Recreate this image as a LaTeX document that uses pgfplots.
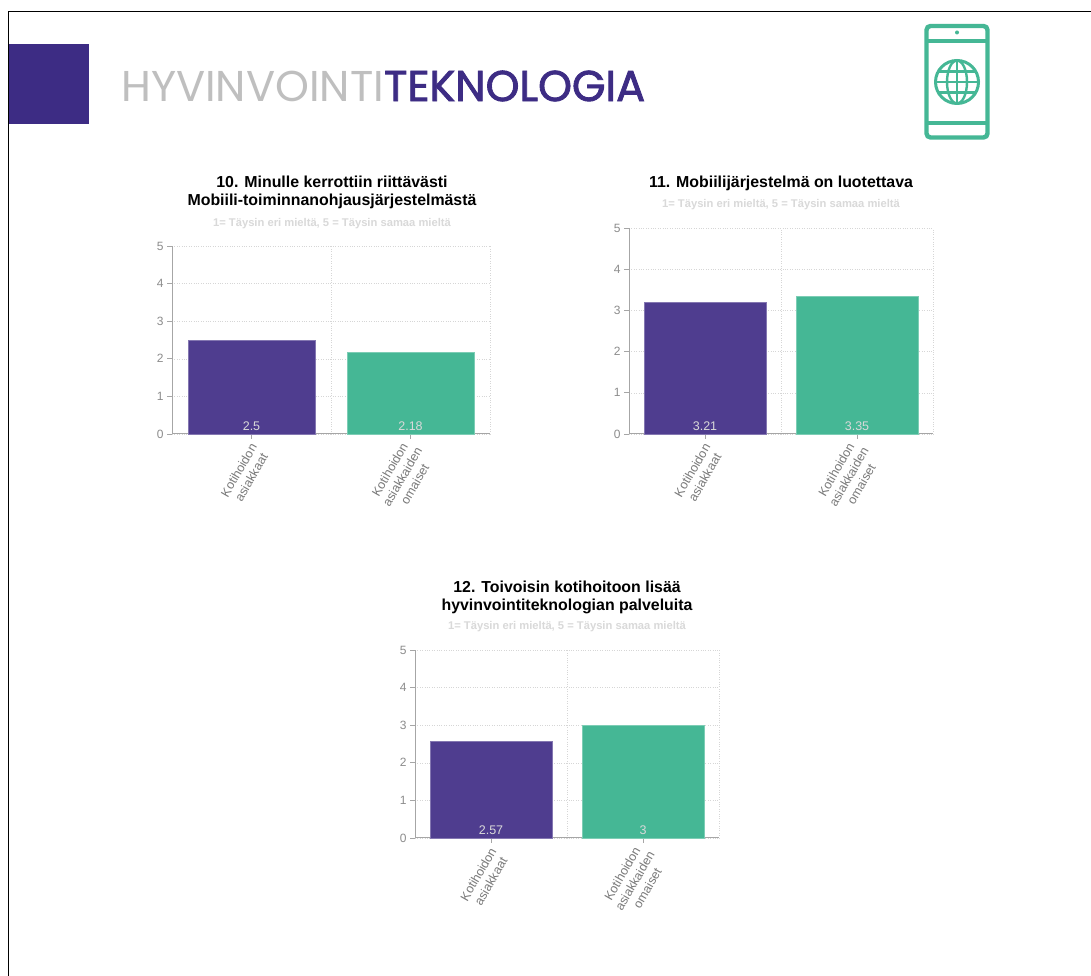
\documentclass[border=0pt]{standalone}
\usepackage{pgfplots}
\pgfplotsset{compat=1.18}
\usepackage{fontspec}
\setmainfont{Liberation Sans}
\newfontfamily\headfont{Poppins}
\definecolor{purp}{HTML}{4F3D8F}
\definecolor{deep}{HTML}{3D2C84}
\definecolor{grn}{HTML}{45B795}
\definecolor{tk}{HTML}{8C8C8C}
\definecolor{lbl}{HTML}{7A7A7A}
\pgfplotsset{
  qq/.style={
    scale only axis, ymin=0, ymax=5, xmin=0, xmax=2,
    axis lines=left, axis line style={-, draw=black!35, line width=1pt},
    ytick={0,1,2,3,4,5}, xtick={0.5,1.5}, minor xtick={0,1,2},
    xticklabels={{Kotihoidon\\asiakkaat},{Kotihoidon\\asiakkaiden\\omaiset}},
    tick align=outside, tick style={draw=black!35, line width=0.6pt},
    major tick length=5pt, minor tick length=0pt,
    ymajorgrids, xminorgrids,
    grid style={dotted, draw=black!16, line width=0.5pt},
    tick label style={font=\fontsize{12}{13}\selectfont, text=tk},
    /pgf/number format/assume math mode=true,
    xticklabel style={rotate=60, anchor=east, align=center, text=lbl,
      font=\fontsize{12.5}{14.5}\selectfont, inner sep=1pt, xshift=-2.8pt, yshift=-11.8pt},
    anchor=south west, clip=false, axis on top=false,
  },
  qbar/.style={ybar, bar width=0.8, bar shift=0pt, fill=#1, draw=#1!70!white, line width=0.4pt},
  qval/.style={draw=none, mark=none, nodes near coords, point meta=explicit symbolic,
    nodes near coords style={anchor=south, inner sep=3pt, text=white!85!black,
      font=\fontsize{12.5}{13}\selectfont}},
}
\begin{document}
\begin{tikzpicture}[x=1pt,y=1pt]
\useasboundingbox (0,0) rectangle (1091,976);
\fill[white] (0,0) rectangle (1091,976);
\draw[black, line width=1pt] (8.5,0) -- (8.5,964.5) -- (1091,964.5);
\fill[deep] (9,852) rectangle (89,932);
% heading
\node[anchor=west, inner sep=0pt, font=\headfont\fontsize{43.1}{44}\selectfont] at (121,890)
  {\textcolor{black!25}{HYVINVOINTI}\textcolor{deep}{\addfontfeature{FakeBold=2}TEKNOLOGIA}};
% phone icon
\draw[grn, line width=4.4pt, rounded corners=4pt] (926.5,838.5) rectangle (987.5,950);
\draw[grn, line width=3.6pt] (926.5,935) -- (987.5,935);
\draw[grn, line width=3.6pt] (926.5,853) -- (987.5,853);
\fill[grn] (957,943.5) circle (2);
\begin{scope}[shift={(957,894)}]
\draw[grn, line width=3pt] (0,0) circle (21.5);
\draw[grn, line width=2.4pt] (0,0) ellipse (10 and 21.5);
\draw[grn, line width=2.4pt] (0,-21.5) -- (0,21.5);
\draw[grn, line width=2.4pt] (-21.5,0) -- (21.5,0);
\draw[grn, line width=2.4pt] (-18.5,10.5) -- (18.5,10.5);
\draw[grn, line width=2.4pt] (-18.5,-10.5) -- (18.5,-10.5);
\end{scope}
% chart 10
\begin{axis}[qq, at={(172pt,542pt)}, width=318pt, height=188pt]
\addplot[qbar=purp] coordinates {(0.5,2.5)};
\addplot[qbar=grn] coordinates {(1.5,2.18)};
\addplot[qval] coordinates {(0.5,0)[2.5] (1.5,0)[2.18]};
\end{axis}
\node[align=center, font=\bfseries\fontsize{15.9}{18}\selectfont] at (332,783.5)
  {10. Minulle kerrottiin riittävästi\\Mobiili-toiminnanohjausjärjestelmästä};
\node[text=black!15, font=\bfseries\fontsize{11.2}{12}\selectfont] at (332,752.5)
  {1= Täysin eri mieltä, 5 = Täysin samaa mieltä};
% chart 11
\begin{axis}[qq, at={(629pt,542pt)}, width=304pt, height=206pt]
\addplot[qbar=purp] coordinates {(0.5,3.21)};
\addplot[qbar=grn] coordinates {(1.5,3.35)};
\addplot[qval] coordinates {(0.5,0)[3.21] (1.5,0)[3.35]};
\end{axis}
\node[font=\bfseries\fontsize{15.9}{18}\selectfont] at (781,792.5)
  {11. Mobiilijärjestelmä on luotettava};
\node[text=black!15, font=\bfseries\fontsize{11.2}{12}\selectfont] at (781,771.5)
  {1= Täysin eri mieltä, 5 = Täysin samaa mieltä};
% chart 12
\begin{axis}[qq, at={(415pt,138pt)}, width=304pt, height=188pt]
\addplot[qbar=purp] coordinates {(0.5,2.57)};
\addplot[qbar=grn] coordinates {(1.5,3)};
\addplot[qval] coordinates {(0.5,0)[2.57] (1.5,0)[3]};
\end{axis}
\node[align=center, font=\bfseries\fontsize{15.9}{18}\selectfont] at (567,379)
  {12. Toivoisin kotihoitoon lisää\\hyvinvointiteknologian palveluita};
\node[text=black!15, font=\bfseries\fontsize{11.2}{12}\selectfont] at (567,349.5)
  {1= Täysin eri mieltä, 5 = Täysin samaa mieltä};
\end{tikzpicture}
\end{document}
